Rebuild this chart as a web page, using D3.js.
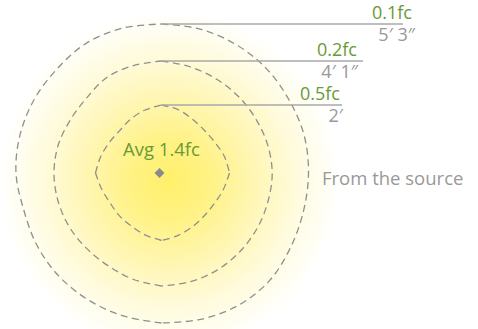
<!DOCTYPE html>
<html><head><meta charset="utf-8">
<script src="https://cdn.jsdelivr.net/npm/d3@7"></script>
<style>html,body{margin:0;padding:0;background:#fff;overflow:hidden;} svg{display:block;}</style>
</head><body>
<script>
// ---- data ----
const levels = ["0.1fc", "0.2fc", "0.5fc"];
const distances = ["5\u2032 3\u2033", "4\u2032 1\u2033", "2\u2032"];
const angles = [0,15,30,45,60,75,90,105,120,135,150,165,180,195,210,225,240,255,270,285,300,315,330,345];
const outerRadii  = [149,149,148.5,148,147,147.5,147,147,149,152.5,153,151.5,150,148,146.5,145.5,144,142.6,145.5,146.5,147,147.5,150,150];
const middleRadii = [112,110,108.8,108.5,108.7,109.8,110.7,110.2,110.5,111,111.9,112.5,113,110,107,106.3,106.8,107.2,107.5,107,105.5,106,110,111];
const innerRadii  = [68,65.5,62,60.5,61.5,65,68,64,61,60.5,62,64.5,67.5,64,61,60,59.5,62,66,63,60.5,59.5,62,65];
const contourTips = [[0,180],[0,180],[0,90,180,270]];
const averageLabel = "Avg 1.4fc";
const sourceLabel = "From the source";

// ---- layout ----
const W = 478, H = 329;
const cx = 161.5, cy = 173;
const src = {x: 159.5, y: 173};
const lineEnds = [403, 363, 342];
const levelLabelX = [412, 357, 340];
const distLabelX = [415, 358, 343];
const green = "#6a9a36", grey = "#999999";
const font = "'Open Sans', 'Noto Sans', sans-serif";

const svg = d3.select("body").append("svg").attr("width", W).attr("height", H);
const r = d3.scaleLinear().domain([0, 160]).range([0, 160]);

const defs = svg.append("defs");
const grad = defs.append("radialGradient").attr("id", "glow")
  .attr("gradientUnits", "userSpaceOnUse")
  .attr("cx", cx + 8).attr("cy", cy + 8).attr("r", r(170));
[[0, "#fff06a"], [0.25, "#fff287"], [0.5, "#fff6b4"], [0.75, "#fffbdd"], [0.92, "#fffef4"], [1, "#ffffff"]]
  .forEach(([o, c]) => grad.append("stop").attr("offset", o).attr("stop-color", c));

svg.append("rect").attr("width", W).attr("height", H).attr("fill", "#fff");
svg.append("circle").attr("cx", cx + 8).attr("cy", cy + 8).attr("r", r(170)).attr("fill", "url(#glow)");

const contours = [outerRadii, middleRadii, innerRadii];
const g = svg.append("g").attr("transform", `translate(${cx},${cy})`);
const radial = d3.lineRadial()
  .angle(d => d.a * Math.PI / 180)
  .radius(d => r(d.r))
  .curve(d3.curveCatmullRom.alpha(0.5));

contours.forEach((radii, ci) => {
  const pts = angles.map((a, i) => ({a, r: radii[i]}));
  const tips = contourTips[ci];
  tips.forEach((t0, ti) => {
    const t1 = ti + 1 < tips.length ? tips[ti + 1] : tips[0] + 360;
    const seg = [];
    pts.forEach(p => { if (p.a >= t0 && p.a <= t1) seg.push(p); });
    pts.forEach(p => { if (p.a + 360 >= t0 && p.a + 360 <= t1) seg.push({a: p.a + 360, r: p.r}); });
    g.append("path").attr("d", radial(seg))
      .attr("fill", "none").attr("stroke", "#8f8f8f")
      .attr("stroke-width", 1.3).attr("stroke-dasharray", "7,4.5");
  });
});

// leader lines + labels
contours.forEach((radii, ci) => {
  const y = cy - r(radii[0]);
  svg.append("line").attr("x1", cx).attr("x2", lineEnds[ci]).attr("y1", y).attr("y2", y)
    .attr("stroke", "#a8a8a8").attr("stroke-width", 1.3);
  svg.append("text").attr("x", levelLabelX[ci]).attr("y", y - 5)
    .attr("text-anchor", "end").attr("fill", green)
    .style("font-family", font).style("font-size", "18px").text(levels[ci]);
  svg.append("text").attr("x", distLabelX[ci]).attr("y", y + 17)
    .attr("text-anchor", "end").attr("fill", grey)
    .style("font-family", font).style("font-size", "18px").text(distances[ci]);
});

svg.append("text").attr("x", cx).attr("y", 156).attr("text-anchor", "middle")
  .attr("fill", green).style("font-family", font).style("font-size", "18.5px").text(averageLabel);

svg.append("path").attr("d", d3.symbol(d3.symbolDiamond2, 64)())
  .attr("transform", `translate(${src.x},${src.y})`).attr("fill", "#8a8a8a");

svg.append("text").attr("x", 322).attr("y", 185).attr("fill", grey)
  .style("font-family", font).style("font-size", "18.5px").text(sourceLabel);
</script>
</body></html>
